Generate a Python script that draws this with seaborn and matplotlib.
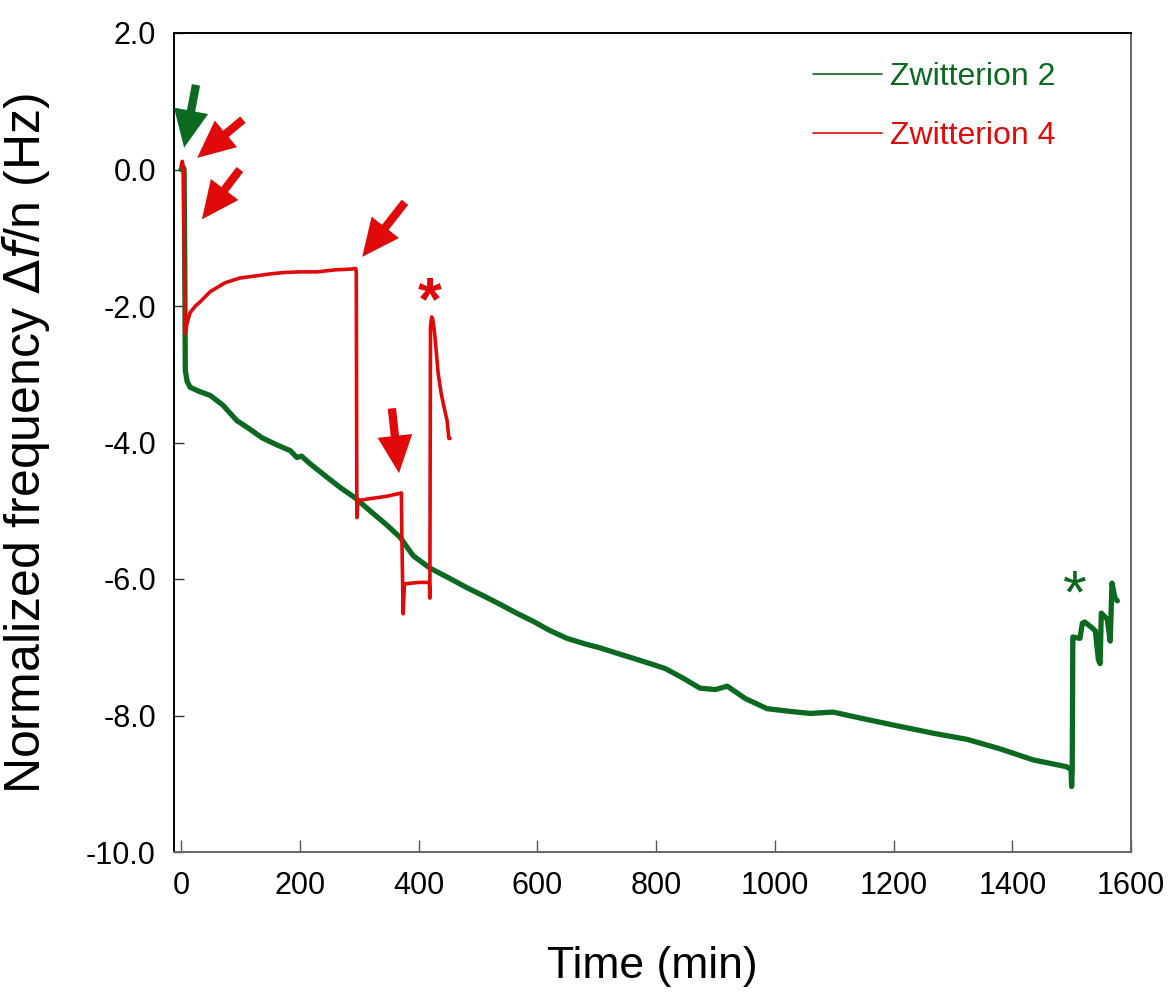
import matplotlib
matplotlib.use("Agg")
import matplotlib.pyplot as plt
from matplotlib.lines import Line2D
import seaborn as sns
import pandas as pd

# ---------------- data ----------------
green_t = [0, 3, 5, 6, 7, 10, 15, 30, 49, 70, 94, 115, 136, 160, 184, 195, 203, 217,
           243, 268, 293, 318, 344, 369, 381, 391, 419, 450, 482, 510, 537, 565, 593,
           620, 650, 680, 706, 735, 761, 790, 815, 845, 874, 900, 920, 950, 987, 1026,
           1060, 1098, 1156, 1211, 1267, 1324, 1380, 1435, 1491, 1499, 1500, 1501,
           1502, 1514, 1518, 1522, 1535, 1540, 1545, 1548, 1550, 1560, 1565, 1568,
           1573, 1577]
green_v = [0.0, 0.04, 0.0, -1.2, -2.94, -3.1, -3.19, -3.25, -3.31, -3.45, -3.68, -3.8,
           -3.93, -4.03, -4.12, -4.22, -4.2, -4.31, -4.49, -4.66, -4.81, -5.0, -5.19,
           -5.39, -5.54, -5.66, -5.84, -5.98, -6.13, -6.25, -6.37, -6.5, -6.62, -6.75,
           -6.87, -6.95, -7.01, -7.09, -7.16, -7.24, -7.31, -7.45, -7.6, -7.62, -7.57,
           -7.75, -7.9, -7.94, -7.97, -7.95, -8.06, -8.16, -8.26, -8.35, -8.49, -8.65,
           -8.75, -8.79, -9.04, -8.8, -6.85, -6.87, -6.65, -6.63, -6.72, -6.76, -7.18,
           -7.24, -6.5, -6.59, -6.91, -6.06, -6.28, -6.32]

red_t = [0, 2, 4, 5, 6, 7, 10, 15, 24, 32, 49, 74, 99, 125, 150, 172, 200, 229, 260,
         285, 294, 295, 296, 298, 320, 345, 371, 372, 374, 376, 378, 400, 418, 419,
         420, 422, 424, 427, 430, 433, 438, 443, 448, 451, 453]
red_v = [0.05, 0.12, 0.0, -0.9, -1.8, -2.4, -2.25, -2.1, -2.0, -1.94, -1.79, -1.66,
         -1.59, -1.56, -1.53, -1.51, -1.5, -1.5, -1.47, -1.46, -1.45, -1.5, -5.1,
         -4.85, -4.82, -4.79, -4.74, -5.5, -6.51, -6.1, -6.07, -6.05, -6.05, -6.28,
         -2.3, -2.16, -2.2, -2.4, -2.69, -2.99, -3.28, -3.49, -3.68, -3.94, -3.94]

series_names = ["Zwitterion 2", "Zwitterion 4"]
x_ticks = [0, 200, 400, 600, 800, 1000, 1200, 1400, 1600]
y_ticks = [2.0, 0.0, -2.0, -4.0, -6.0, -8.0, -10.0]

GREEN = "#0b6a20"
RED = "#e00a0a"

# ---------------- figure ----------------
sns.set_theme(style="white")
plt.rcParams["font.family"] = ["Liberation Sans", "DejaVu Sans"]

W, H = 1171, 994
L, R, T, B = 174, 1131, 33, 852
fig = plt.figure(figsize=(W / 100, H / 100), dpi=100)
ax = fig.add_axes([L / W, 1 - B / H, (R - L) / W, (B - T) / H])

df_g = pd.DataFrame({"t": green_t, "v": green_v})
df_r = pd.DataFrame({"t": red_t, "v": red_v})
sns.lineplot(data=df_g, x="t", y="v", ax=ax, color=GREEN, lw=3.8,
             estimator=None, sort=False, legend=False)
sns.lineplot(data=df_r, x="t", y="v", ax=ax, color=RED, lw=2.6,
             estimator=None, sort=False, legend=False)

ax.set_xlim(-12, 1600)
ax.set_ylim(-10, 2)
ax.set_xticks(x_ticks)
ax.set_xticklabels([str(t) for t in x_ticks])
ax.set_yticks(y_ticks)
ax.set_yticklabels([f"{v:.1f}" for v in y_ticks])

ax.tick_params(axis="x", direction="in", length=9, width=1, color="#555555",
               labelsize=22, pad=14, bottom=True, labelcolor="black")
ax.tick_params(axis="y", direction="in", length=7, width=1, color="#333333",
               labelsize=22, pad=13, left=True, labelcolor="black")
for s in ["left", "top"]:
    ax.spines[s].set_color("black")
for s in ["bottom", "right"]:
    ax.spines[s].set_color("#666666")
for s in ax.spines.values():
    s.set_linewidth(1.4)

ax.set_xlabel("Time (min)", fontsize=32, color="black")
ax.set_ylabel(r"Normalized frequency $\Delta\mathit{f}$/n (Hz)", fontsize=36,
              color="black")
ax.xaxis.set_label_coords((652 - L) / (R - L), -(946 - B) / (B - T))
ax.yaxis.set_label_coords(-(L - 52) / (R - L), (B - 444) / (B - T))

# arrows (tail -> head)
arrows = [
    ((25, 1.24), (5, 0.32), GREEN),
    ((104, 0.73), (27, 0.17), RED),
    ((99, 0.0), (35, -0.73), RED),
    ((377, -0.48), (305, -1.28), RED),
    ((355, -3.5), (367, -4.45), RED),
]
for tail, head, c in arrows:
    ax.annotate("", xy=head, xytext=tail,
                arrowprops=dict(facecolor=c, edgecolor="none", width=6,
                                headwidth=25, headlength=27, shrink=0))

ax.text(419, -1.97, "*", color=RED, fontsize=44, ha="center", va="center",
        fontweight="bold")
ax.text(1506, -6.27, "*", color=GREEN, fontsize=44, ha="center", va="center")

handles = [Line2D([], [], color=GREEN, lw=1.2), Line2D([], [], color=RED, lw=1.2)]
leg = ax.legend(handles, series_names, loc="upper left",
                bbox_to_anchor=(813 / W, 1 - 62 / H),
                bbox_transform=fig.transFigure, frameon=False, fontsize=23,
                handlelength=2.15, handletextpad=0.25, labelspacing=0.9,
                borderpad=0, borderaxespad=0, labelcolor="linecolor")

fig.savefig("out.png", dpi=100)
